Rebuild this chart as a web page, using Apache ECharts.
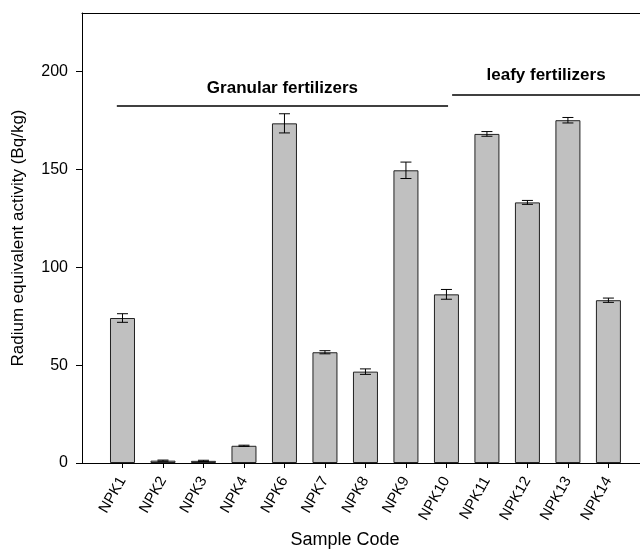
<!DOCTYPE html>
<html>
<head>
<meta charset="utf-8">
<script src="https://cdn.jsdelivr.net/npm/echarts@6/dist/echarts.min.js"></script>
<style>
  html, body { margin: 0; padding: 0; background: #fff; }
  #chart { width: 640px; height: 549px; }
</style>
</head>
<body>
<div id="chart"></div>
<script>
// sample codes, placed at x = 1..13
var samples = ['NPK1', 'NPK2', 'NPK3', 'NPK4', 'NPK6', 'NPK7', 'NPK8', 'NPK9', 'NPK10', 'NPK11', 'NPK12', 'NPK13', 'NPK14']
var raeq = [74.1, 1.2, 1.1, 8.8, 173.6, 56.6, 46.7, 149.6, 86.2, 168.2, 133.2, 175.2, 83.2]
var raeqErr = [2.2, 0.3, 0.3, 0.3, 4.9, 0.8, 1.4, 4.2, 2.5, 1.2, 1.0, 1.4, 1.1]
var yTicks = [0, 50, 100, 150, 200]

// group annotations (x in sample position units, y in Bq/kg)
var groupNames = ['Granular fertilizers', 'leafy fertilizers']
var groupStart = [0.86, 9.14]
var groupEnd = [9.04, 13.78]
var groupLevel = [182.7, 188.3]
var groupLabelGap = [9, 11]

var xPos = samples.map(function (s, i) { return i + 1 })
var barData = raeq.map(function (v, i) { return [i + 1, v] })
var errData = raeq.map(function (v, i) { return [i + 1, v, raeqErr[i]] })

var chart = echarts.init(document.getElementById('chart'))

var font = 'Liberation Sans, Arial, sans-serif'

var markLines = groupNames.map(function (name, i) {
  return [
    {
      coord: [groupStart[i], groupLevel[i]],
      label: {
        show: true,
        formatter: name,
        position: 'insideMiddleTop',
        distance: groupLabelGap[i],
        color: '#000',
        fontWeight: 'bold',
        fontSize: 17,
        fontFamily: font,
      },
    },
    { coord: [groupEnd[i], groupLevel[i]] },
  ]
})

var option = {
  animation: false,
  grid: {
    left: 82,
    right: 0,
    top: 13,
    bottom: 86,
    containLabel: false,
    outerBoundsMode: 'none',
  },
  xAxis: [
    {
      type: 'value',
      min: 0,
      max: 13.78,
      interval: 1,
      name: 'Sample Code',
      nameLocation: 'middle',
      nameGap: 68,
      nameTextStyle: {
        color: '#000',
        fontSize: 18,
        fontFamily: font,
        padding: [0, 32, 0, 0],
      },
      splitLine: { show: false },
      axisLine: { lineStyle: { color: '#000', width: 1 } },
      axisTick: {
        customValues: xPos,
        length: 5,
        lineStyle: { color: '#000' },
      },
      axisLabel: {
        customValues: xPos,
        rotate: 60,
        margin: 15,
        color: '#000',
        fontSize: 15,
        fontFamily: font,
        formatter: function (v) {
          return samples[Math.round(v) - 1] || ''
        },
      },
    },
    {
      // top frame line
      type: 'value',
      position: 'top',
      min: 0,
      max: 13.78,
      axisLine: { show: true, onZero: false, lineStyle: { color: '#000', width: 1 } },
      axisTick: { show: false },
      axisLabel: { show: false },
      splitLine: { show: false },
    },
  ],
  yAxis: {
    type: 'value',
    min: 0,
    max: 230,
    interval: 50,
    name: 'Radium equivalent activity (Bq/kg)',
    nameLocation: 'middle',
    nameGap: 55,
    nameTextStyle: {
      color: '#000',
      fontSize: 17,
      fontFamily: font,
    },
    splitLine: { show: false },
    axisLine: { show: true, lineStyle: { color: '#000', width: 1 } },
    axisTick: {
      show: true,
      customValues: yTicks,
      length: 6,
      lineStyle: { color: '#000' },
    },
    axisLabel: {
      customValues: yTicks,
      margin: 14,
      color: '#000',
      fontSize: 16,
      fontFamily: font,
    },
  },
  series: [
    {
      type: 'bar',
      data: barData,
      barWidth: 25,
      itemStyle: {
        color: '#c0c0c0',
        borderColor: '#222',
        borderWidth: 1,
      },
      markLine: {
        silent: true,
        symbol: ['none', 'none'],
        lineStyle: { color: '#000', width: 1.5, type: 'solid' },
        data: markLines,
      },
      z: 2,
    },
    {
      type: 'custom',
      data: errData,
      z: 3,
      renderItem: function (params, api) {
        var x = api.value(0)
        var y = api.value(1)
        var e = api.value(2)
        var hi = api.coord([x, y + e])
        var lo = api.coord([x, y - e])
        var half = 5.5
        var style = { stroke: '#000', lineWidth: 1 }
        return {
          type: 'group',
          children: [
            { type: 'line', shape: { x1: hi[0], y1: hi[1], x2: lo[0], y2: lo[1] }, style: style },
            { type: 'line', shape: { x1: hi[0] - half, y1: hi[1], x2: hi[0] + half, y2: hi[1] }, style: style },
            { type: 'line', shape: { x1: lo[0] - half, y1: lo[1], x2: lo[0] + half, y2: lo[1] }, style: style },
          ],
        }
      },
    },
  ],
}

chart.setOption(option)
</script>
</body>
</html>
